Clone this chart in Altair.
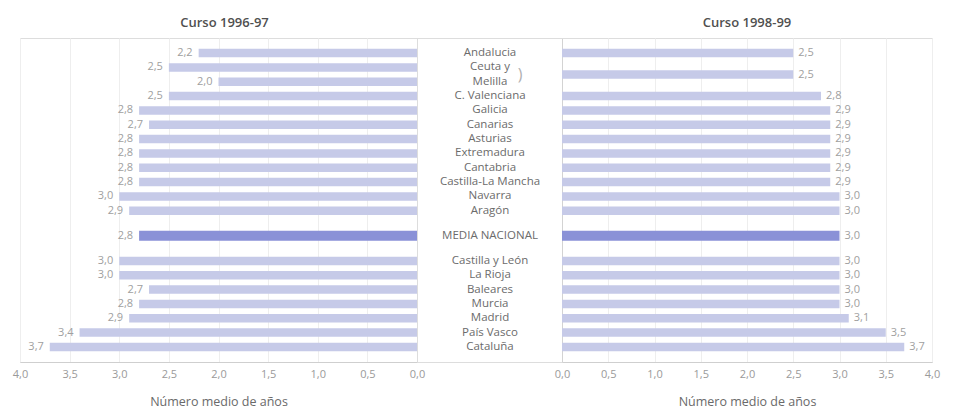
import altair as alt
import pandas as pd

# ---------------- data ----------------
MEDIA = "MEDIA NACIONAL"

regions_9697 = ["Andalucia", "Ceuta y", "Melilla", "C. Valenciana", "Galicia", "Canarias",
                "Asturias", "Extremadura", "Cantabria", "Castilla-La Mancha", "Navarra", "Aragón",
                MEDIA, "Castilla y León", "La Rioja", "Baleares", "Murcia", "Madrid",
                "País Vasco", "Cataluña"]
values_9697 = [2.2, 2.5, 2.0, 2.5, 2.8, 2.7, 2.8, 2.8, 2.8, 2.8, 3.0, 2.9,
               2.8, 3.0, 3.0, 2.7, 2.8, 2.9, 3.4, 3.7]

regions_9899 = ["Andalucia", "Ceuta y Melilla", "C. Valenciana", "Galicia", "Canarias",
                "Asturias", "Extremadura", "Cantabria", "Castilla-La Mancha", "Navarra", "Aragón",
                MEDIA, "Castilla y León", "La Rioja", "Baleares", "Murcia", "Madrid",
                "País Vasco", "Cataluña"]
values_9899 = [2.5, 2.5, 2.8, 2.9, 2.9, 2.9, 2.9, 2.9, 2.9, 3.0, 3.0,
               3.0, 3.0, 3.0, 3.0, 3.0, 3.1, 3.5, 3.7]

tick_values = [0.0, 0.5, 1.0, 1.5, 2.0, 2.5, 3.0, 3.5, 4.0]

# ---------------- row order (extra space around the national mean) ----------------
def row_positions(names):
    pos, p = [], 0.0
    for i, n in enumerate(names):
        if n == MEDIA or (i > 0 and names[i - 1] == MEDIA):
            p += 0.75
        pos.append(p)
        p += 1
    return pos

rows_left = row_positions(regions_9697)
row_of = dict(zip(regions_9697, rows_left))
row_of["Ceuta y Melilla"] = (row_of["Ceuta y"] + row_of["Melilla"]) / 2
rows_right = [row_of[n] for n in regions_9899]

df_left = pd.DataFrame({"region": regions_9697, "v": values_9697, "row": rows_left})
df_right = pd.DataFrame({"region": regions_9899, "v": values_9899, "row": rows_right})
df_bracket = pd.DataFrame({"row": [row_of["Ceuta y Melilla"]], "t": [")"]})

# ---------------- styling ----------------
FONT = "Open Sans"
H = 324
yscale = alt.Scale(domain=[-1.05, 21.55], reverse=True, nice=False, zero=False, padding=0)
fmt_val = "replace(format(datum.v, '.1f'), '.', ',')"
fmt_axis = "replace(format(datum.value, '.1f'), '.', ',')"

bar_color = alt.condition(alt.datum.region == MEDIA, alt.value("#8a91d7"), alt.value("#c6cae8"))
bar_size = alt.condition(alt.datum.region == MEDIA, alt.value(10), alt.value(8.5))


def x_axis():
    return alt.Axis(values=tick_values, labelExpr=fmt_axis, title="Número medio de años",
                    grid=True, gridColor="#eeeeee", domainColor="#cfcfcf", ticks=False,
                    labelFlush=False, labelPadding=6, titlePadding=16,
                    labelColor="#9a9a9a", titleColor="#6a6a6a",
                    labelFontSize=11, titleFontSize=12.5, titleFontWeight="normal",
                    labelFont=FONT, titleFont=FONT)


def y_axis(orient):
    return alt.Axis(orient=orient, labels=False, ticks=False, grid=False, title=None,
                    domainColor="#d3d3d3")


def title(txt, dx=0):
    return alt.TitleParams(txt, fontSize=13, fontWeight=600, color="#505050",
                           font=FONT, offset=8, anchor="middle", dx=dx)


# ---------------- left panel ----------------
lb = alt.Chart(df_left).transform_calculate(lab=fmt_val)
left = alt.layer(
    lb.mark_bar(orient="horizontal").encode(
        x=alt.X("v:Q", scale=alt.Scale(domain=[0, 4], reverse=True, nice=False), axis=x_axis()),
        y=alt.Y("row:Q", scale=yscale, axis=y_axis("right")),
        color=bar_color, size=bar_size),
    lb.mark_text(align="right", baseline="middle", dx=-6, fontSize=11, color="#a0a0a0",
                 font=FONT).encode(x="v:Q", y="row:Q", text="lab:N"),
).properties(width=397, height=H, title=title("Curso 1996-97", dx=6))

# ---------------- centre labels ----------------
mid = alt.layer(
    alt.Chart(df_left).mark_text(fontSize=11.5, color="#6b6b6b", font=FONT, baseline="middle").encode(
        x=alt.value(73), y=alt.Y("row:Q", scale=yscale, axis=None), text="region:N"),
    alt.Chart(df_bracket).mark_text(fontSize=16, color="#b0b0b0", font=FONT, baseline="middle").encode(
        x=alt.value(103), y=alt.Y("row:Q", scale=yscale, axis=None), text="t:N"),
).properties(width=145, height=H)

# ---------------- right panel ----------------
rb = alt.Chart(df_right).transform_calculate(lab=fmt_val)
right = alt.layer(
    rb.mark_bar(orient="horizontal").encode(
        x=alt.X("v:Q", scale=alt.Scale(domain=[0, 4], nice=False), axis=x_axis()),
        y=alt.Y("row:Q", scale=yscale, axis=y_axis("left")),
        color=bar_color, size=bar_size),
    rb.mark_text(align="left", baseline="middle", dx=5, fontSize=11, color="#a0a0a0",
                 font=FONT).encode(x="v:Q", y="row:Q", text="lab:N"),
).properties(width=370, height=H, title=title("Curso 1998-99"))

chart = alt.hconcat(left, mid, right, spacing=0, bounds="flush").properties(
    padding={"left": 3, "top": 8, "right": 5, "bottom": 0}
).configure_view(stroke=None).configure(font=FONT, background="white")

chart.save("out.html", embed_options={"renderer": "svg", "actions": False})
